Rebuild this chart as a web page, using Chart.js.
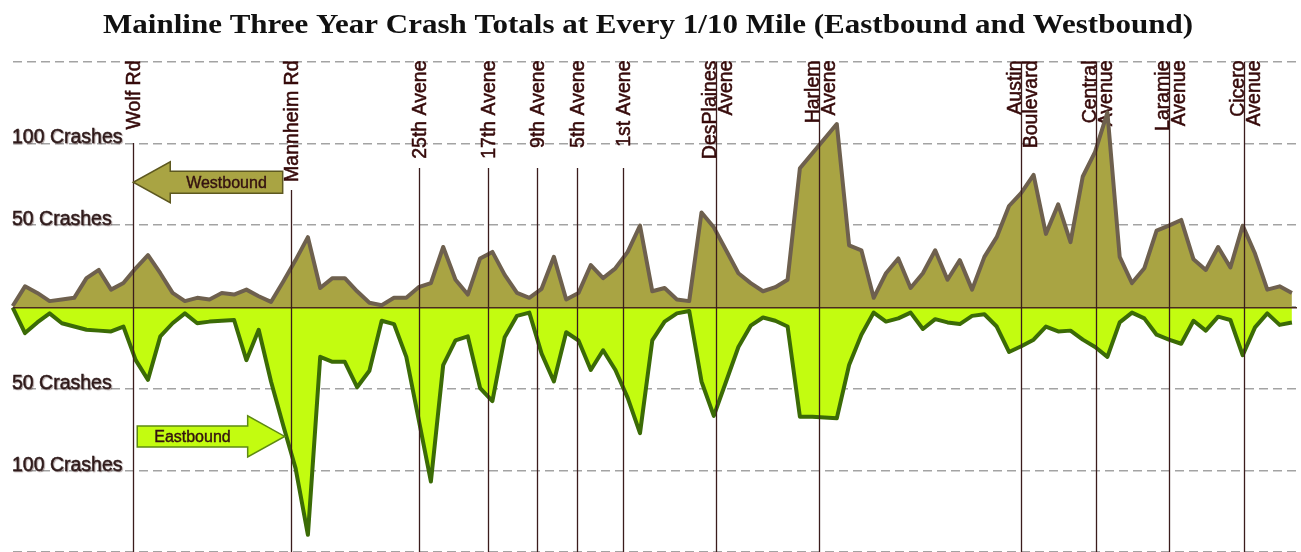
<!DOCTYPE html>
<html>
<head>
<meta charset="utf-8">
<title>Mainline Three Year Crash Totals</title>
<script src="https://cdn.jsdelivr.net/npm/chart.js@4.4.1/dist/chart.umd.min.js"></script>
<style>
  html, body { margin: 0; padding: 0; background: #fff; overflow: hidden; }
  #wrap { width: 1301px; height: 552px; }
</style>
</head>
<body>
<div id="wrap"><canvas id="crashChart" width="1301" height="552"></canvas></div>
<script>
// crash totals per 1/10 mile, west (left) to east (right)
const westbound = [1, 13, 9, 4, 5, 6, 18, 23, 11, 15,
  24, 32, 21, 9, 4, 6, 5, 9, 8, 11,
  7, 3.5, 16, 29, 43, 12, 18, 18, 10, 3,
  1.5, 6, 6, 12.5, 15, 37, 17, 8, 30, 34,
  20, 9, 6, 11.5, 31, 5, 9, 26, 18, 24,
  34, 50, 10, 12, 5, 4, 58, 49, 35, 21,
  15, 10, 12.5, 17, 85, 94, 103, 112, 38, 35,
  6, 21, 30, 12, 21, 35, 17, 29, 11, 31,
  43, 62, 70, 81, 45, 63, 40, 80, 95, 119,
  31, 15, 24, 47, 50, 53.5, 29.5, 23, 37, 24.5,
  50, 33, 11, 13, 9];

const eastbound = [0, 15.5, 9, 3.5, 9.5, 11.5, 13.5, 14, 14.5, 11.5,
  32, 44, 17.5, 9.5, 3.5, 9.5, 8.5, 8, 7.5, 32,
  13.5, 45, 72, 98, 138.5, 30, 33, 33, 48.5, 38.5,
  8, 10, 30, 68, 106, 35, 20, 17.5, 49, 57,
  18, 5, 3, 28, 45, 15, 20, 38, 26, 38,
  55, 76.5, 20, 8.5, 3.5, 2, 45, 66, 45, 24,
  11, 6, 8, 11.5, 66.5, 66.5, 67, 67.5, 35, 16.5,
  3, 8.5, 6.5, 3, 13, 7, 9, 10, 5, 4,
  11.5, 27, 23.5, 19.5, 11.5, 14.5, 14, 19.5, 24, 30,
  9, 3, 6.5, 16.5, 19.5, 22, 8, 14, 5.5, 7.5,
  29, 12, 3.5, 10.5, 9];

// cross streets, position in 1/10 mile steps
const streetNames = [['Wolf Rd'], ['Mannheim Rd'], ['25th Avene'], ['17th Avene'],
  ['9th Avene'], ['5th Avene'], ['1st Avene'], ['DesPlaines', 'Avene'],
  ['Harlem', 'Avene'], ['Austin', 'Boulevard'], ['Central', 'Avenue'],
  ['Laramie', 'Avenue'], ['Cicero', 'Avenue']];
const streetPos = [9.8, 22.6, 33.05, 38.65, 42.6, 45.85, 49.65, 57.15, 65.55, 81.95, 88.05, 94.0, 100.1];

const crashTicks = [100, 50, -50, -100];
const chartTitle = 'Mainline Three Year Crash Totals at Every 1/10 Mile (Eastbound and Westbound)';

const OLIVE = '#a9a443';
const LIME = '#c3fc10';

// where the street lines start below their label (px), single-line labels only
const lineTops = [143, 190, 168, 168, 168, 168, 168];

function drawArrow(ctx, tail, tip, cy, shaftH, headH, headL, fill, stroke) {
  const dir = Math.sign(tip - tail);
  const base = tip - dir * headL;
  ctx.beginPath();
  ctx.moveTo(tail, cy - shaftH);
  ctx.lineTo(base, cy - shaftH);
  ctx.lineTo(base, cy - headH);
  ctx.lineTo(tip, cy);
  ctx.lineTo(base, cy + headH);
  ctx.lineTo(base, cy + shaftH);
  ctx.lineTo(tail, cy + shaftH);
  ctx.closePath();
  ctx.fillStyle = fill;
  ctx.fill();
  ctx.lineWidth = 1.5;
  ctx.strokeStyle = stroke;
  ctx.stroke();
}

// fill plus a hairline stroke, so the text looks as heavy as the scanned original
function heavyText(ctx, s, x, y) {
  ctx.fillText(s, x, y);
  ctx.strokeText(s, x, y);
}

const overlay = {
  id: 'overlay',
  beforeDatasetsDraw(chart) {
    const { ctx, scales: { x, y } } = chart;
    ctx.save();
    // axis captions
    ctx.font = '19.5px "Liberation Sans", Arial, sans-serif';
    ctx.fillStyle = '#2e1a1a';
    ctx.strokeStyle = '#2e1a1a';
    ctx.lineWidth = 0.5;
    ctx.textAlign = 'left';
    ctx.textBaseline = 'alphabetic';
    ctx.shadowColor = 'rgba(60,30,30,0.35)';
    ctx.shadowOffsetX = 1;
    ctx.shadowOffsetY = 1;
    ctx.shadowBlur = 1;
    crashTicks.forEach(v => {
      heavyText(ctx, Math.abs(v) + ' Crashes', 12, y.getPixelForValue(v) - 1);
    });
    ctx.shadowColor = 'transparent';

    // street names, rotated
    ctx.font = '19.5px "Liberation Sans", Arial, sans-serif';
    ctx.fillStyle = '#360a0a';
    ctx.strokeStyle = '#360a0a';
    ctx.lineWidth = 0.5;
    ctx.textAlign = 'right';
    streetNames.forEach((lines, k) => {
      const px = x.getPixelForValue(streetPos[k]);
      ctx.save();
      ctx.translate(px, 60.5);
      ctx.rotate(-Math.PI / 2);
      if (lines.length === 1) {
        heavyText(ctx, lines[0], 0, 7);
      } else {
        heavyText(ctx, lines[0], 0, 0);
        heavyText(ctx, lines[1], 0, 16);
      }
      ctx.restore();
    });
    ctx.restore();
  },
  afterDatasetsDraw(chart) {
    const { ctx, chartArea, scales: { x, y } } = chart;
    const zeroY = y.getPixelForValue(0);
    ctx.save();
    // zero line
    ctx.strokeStyle = '#4a2a20';
    ctx.lineWidth = 1.5;
    ctx.beginPath();
    ctx.moveTo(chartArea.left, zeroY);
    ctx.lineTo(chartArea.right - 4, zeroY);
    ctx.stroke();

    // street lines
    ctx.strokeStyle = '#3b1c1c';
    ctx.lineWidth = 1.3;
    streetNames.forEach((lines, k) => {
      const px = Math.round(x.getPixelForValue(streetPos[k])) + 0.5;
      const top = lines.length > 1 ? chartArea.top : lineTops[k];
      ctx.beginPath();
      ctx.moveTo(px, top);
      ctx.lineTo(px, chartArea.bottom);
      ctx.stroke();
    });

    // direction arrows between Wolf Rd and Mannheim Rd
    const wolf = x.getPixelForValue(streetPos[0]);
    const mann = x.getPixelForValue(streetPos[1]);
    const wy = y.getPixelForValue(76.5);
    const ey = y.getPixelForValue(-78.5);
    drawArrow(ctx, mann - 8, wolf, wy, 11, 20.5, 37, OLIVE, '#5d5820');
    drawArrow(ctx, wolf + 4, mann - 6, ey, 10.5, 20.5, 37, LIME, '#5e8a12');
    ctx.font = '16px "Liberation Sans", Arial, sans-serif';
    ctx.fillStyle = '#341210';
    ctx.strokeStyle = '#341210';
    ctx.lineWidth = 0.4;
    ctx.textAlign = 'center';
    ctx.textBaseline = 'middle';
    heavyText(ctx, 'Westbound', (wolf + 37 + mann - 8) / 2, wy + 1);
    heavyText(ctx, 'Eastbound', (wolf + 4 + mann - 6 - 37) / 2, ey + 1);
    ctx.restore();
  },
  afterDraw(chart) {
    const ctx = chart.ctx;
    ctx.save();
    ctx.font = 'bold 28px "Liberation Serif", "Times New Roman", serif';
    ctx.fillStyle = '#111';
    ctx.textAlign = 'center';
    ctx.textBaseline = 'alphabetic';
    const w = ctx.measureText(chartTitle).width;
    ctx.translate(648, 33);
    ctx.scale(1090 / w, 1);
    ctx.fillText(chartTitle, 0, 0);
    ctx.restore();
  }
};

new Chart(document.getElementById('crashChart'), {
  type: 'line',
  data: {
    datasets: [{
      label: 'Westbound',
      data: westbound.map((v, i) => ({ x: i, y: v })),
      borderColor: '#6e604e',
      backgroundColor: OLIVE,
      borderWidth: 4,
      borderJoinStyle: 'round',
      fill: 'origin',
      tension: 0,
      pointRadius: 0,
      clip: false
    }, {
      label: 'Eastbound',
      data: eastbound.map((v, i) => ({ x: i, y: -v })),
      borderColor: '#3b6b06',
      backgroundColor: LIME,
      borderWidth: 4,
      borderJoinStyle: 'round',
      fill: 'origin',
      tension: 0,
      pointRadius: 0,
      clip: false
    }]
  },
  options: {
    responsive: false,
    animation: false,
    layout: { padding: { left: 12.7, right: 0, top: 61.7, bottom: 0 } },
    plugins: {
      legend: { display: false },
      tooltip: { enabled: false },
      title: { display: false }
    },
    scales: {
      x: {
        type: 'linear',
        display: false,
        min: 0,
        max: 104.74
      },
      y: {
        min: -149,
        max: 150,
        ticks: { display: false, stepSize: 50 },
        afterFit(scale) { scale.width = 0; },
        border: { display: false, dash: [9, 5] },
        grid: {
          drawTicks: false,
          tickLength: 0,
          lineWidth: 1.5,
          color: ctx => (ctx.tick.value === 0 ? 'rgba(0,0,0,0)' : '#a3a3a3')
        }
      }
    }
  },
  plugins: [overlay]
});
</script>
</body>
</html>
